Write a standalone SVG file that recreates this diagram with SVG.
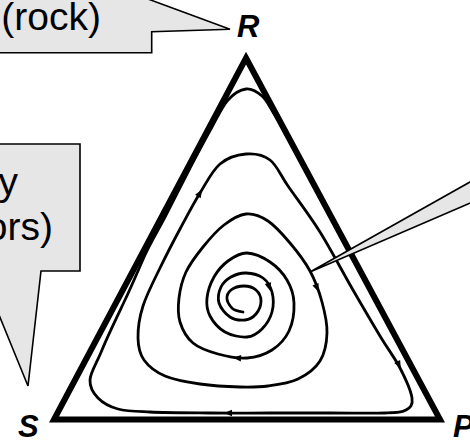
<svg xmlns="http://www.w3.org/2000/svg" xmlns:xlink="http://www.w3.org/1999/xlink" width="470" height="440" viewBox="0 0 470 440">
<style>
.call{fill:#e6e6e6;stroke:#000;stroke-width:1.6;stroke-linejoin:miter}
.ct{font-family:"Liberation Sans",Arial,sans-serif;font-size:39px;fill:#000}
.vl{font-family:"Liberation Sans",Arial,sans-serif;font-size:31px;font-weight:bold;font-style:italic;fill:#000}
.edge{fill:none;stroke:#000;stroke-width:6;stroke-linejoin:miter}
.traj{fill:none;stroke:#000;stroke-width:2.8;stroke-linecap:round;stroke-linejoin:round}
</style>
<defs>
<path id="ah" d="M4,0 L-4,-3.3 L-4,3.3 Z" fill="#000"/>
</defs>
<rect width="470" height="440" fill="#fff"/>
<g id="simplex">
<path class="edge" d="M246,58 L440,419.5 L54,419.5 Z"/>
</g>
<g id="connectors">
<path class="traj" d="M243,312 C239.7,311 235.7,311.2 233,309 S227.3,302.2 227,299 S228.2,292.2 231,290 S239.8,286 244,286 S253.2,287.5 256,290 S261,297 261,301 S258.7,310.8 256,314 S249.3,319.5 245,320 S234.3,319.8 230,317 S220.5,308 219,303 S219,291.3 221,287 S226.8,279.3 231,277 S240.7,272.8 246,273 S258.7,274.8 263,278 S270.5,286.3 272,292 S273.7,305.8 272,312 S266.2,324.8 262,329 S253.2,336.5 247,337 S231.2,335.5 225,332 S213,321.7 210,316 S206.3,304.5 207,298 S210.5,283.2 214,277 S222.5,265 228,261 S240,252.8 247,253 S263.3,257.5 270,262 S283,273.2 287,280 S293.7,294.5 294,303 S292.7,323.2 289,331 S279,345.5 272,350 S256,357.3 247,358 S227,356.5 218,354 S199.3,348.3 193,343 S182.3,329.5 180,322 S178,306.3 179,298 S182,280.5 186,272 S196.7,254.8 203,247 S216.8,230.5 224,225 S238.7,214.7 246,214 S260.7,216.2 268,221 S283,234.7 290,243 S304.7,261.2 310,271 S319.2,291.7 322,302 S327.3,323.2 327,333 S324.8,353.3 320,361 S306.7,374.8 298,379 S277.7,384.7 268,386 S251.3,387.3 240,387 S212.5,385.8 200,384 S174.3,380 165,376 S148.5,366.3 144,360 S138.2,347 138,338 S139.3,317.7 143,306 S153.8,280.8 160,268 S173.3,241.5 180,229 S193.3,203.8 200,193 S212.3,170.5 220,164 S237.7,154.7 246,154 S263,154.7 270,160 S279.7,174 288,186 S309.2,214.7 320,232 S343,272.7 353,290 S372.2,323 380,336 S394.7,357.7 400,368 S411,391 412,398 S410.5,407.5 406,410 S397.7,412.5 385,413 S349.2,413 330,413 S290,413 270,413 S230,413.2 210,413 S165.3,412.7 150,412 S126.7,411.3 118,409 S102.7,402.8 98,398 S89.7,388 90,380 S96.7,363.3 102,350 S117.5,315.8 125,300 S138.8,268.8 145,255 S157.5,231.5 165,217 S182.2,183 190,168 S205.7,138.3 212,127 S222.3,106.3 228,100 S240.3,89.7 246,89 S257.5,92.2 262,96 S269.5,106.5 273,112 S279.7,123.2 283,129 S289.7,141 293,147"/>
<use xlink:href="#ah" href="#ah" transform="translate(200,193) rotate(-58)"/>
<use xlink:href="#ah" href="#ah" transform="translate(228,413) rotate(180)"/>
<use xlink:href="#ah" href="#ah" transform="translate(399,365) rotate(63)"/>
<use xlink:href="#ah" href="#ah" transform="translate(237,358) rotate(183)"/>
<use xlink:href="#ah" href="#ah" transform="translate(317,288) rotate(68)"/>
<use xlink:href="#ah" href="#ah" transform="translate(269,287) rotate(75)"/>
</g>
<g id="callout-rock">
<path class="call" d="M-5,52.7 L151.7,52.7 L151.7,31.7 L230,29.3 L148,-1 L-5,-1 Z"/>
<text class="ct" x="101" y="30" text-anchor="end">(rock)</text>
</g>
<g id="callout-left">
<path class="call" d="M-30,144 L80,144 L80,271 L41,271 L28,386 L-19,271 L-30,271 Z"/>
<text class="ct" x="18" y="195" text-anchor="end">y</text>
<text class="ct" x="53" y="240" text-anchor="end">ors)</text>
</g>
<g id="callout-right">
<path class="call" d="M310,272 L480,176.4 L480,198.7 Z"/>
</g>
<g id="vertex-R"><text class="vl" x="237" y="37">R</text></g>
<g id="vertex-S"><text class="vl" x="18" y="437">S</text></g>
<g id="vertex-P"><text class="vl" x="453" y="437">P</text></g>
</svg>
